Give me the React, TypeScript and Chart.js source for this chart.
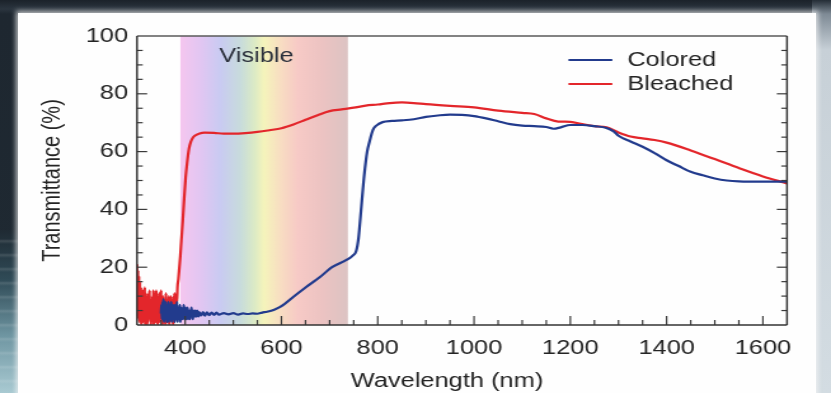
import React, { useEffect, useRef } from "react";
import { Chart, registerables } from "chart.js";

Chart.register(...registerables);

// The reference is a photo of a slide that is stretched horizontally.
const CW = 654;
const CH = 393;
const S = 831 / CW;

const FONT = "'Liberation Sans', Arial, Helvetica, sans-serif";
const TEXT = "#242424";

const seriesLabels = ["Colored", "Bleached"];
const seriesColors = ["#223b8d", "#e3262b"];
const xTickValues = [400, 600, 800, 1000, 1200, 1400, 1600];
const yTickValues = [0, 20, 40, 60, 80, 100];
const visibleBand = [390, 738];

// Bleached (red) spectrum
const bleachedNm = [
  300, 301, 302, 303, 304, 305, 306, 307, 308, 309, 310, 311, 312, 313, 314, 315, 316, 317, 318, 319, 320,
  321, 322, 323, 324, 325, 326, 327, 328, 329, 330, 331, 332, 333, 334, 335, 336, 337, 338, 339, 340,
  341, 342, 343, 344, 345, 346, 347, 348, 349, 350, 351, 352, 353, 354, 355, 356, 357, 358, 359, 360,
  361, 362, 363, 364, 365, 366, 367, 368, 369, 370, 371, 372, 373, 374, 375, 376, 377, 378, 379, 380,
  381, 382, 383, 384,
  386, 388, 390, 392, 395, 398, 401, 404, 408, 412, 416, 420, 430, 440, 460, 480, 500, 525, 550, 575,
  600, 625, 650, 675, 700, 725, 750, 775, 800, 825, 850, 875, 900, 950, 1000, 1050, 1100, 1125, 1150, 1175,
  1200, 1225, 1250, 1275, 1300, 1325, 1350, 1375, 1400, 1450, 1500, 1550, 1600, 1650,
];
const bleachedT = [
  21, 3, 19, 2, 17, 1, 15, 2, 13, 0, 12, 3, 12, 1, 10, 2, 13, 0, 11, 4, 9,
  0, 10, 1, 11, 3, 12, 2, 9, 0, 8, 1, 10, 4, 12, 0, 9, 3, 11, 1, 12,
  2, 10, 0, 8, 3, 11, 1, 9, 4, 12, 2, 8, 0, 10, 1, 9, 3, 8, 0, 11,
  2, 9, 1, 8, 3, 10, 0, 9, 1, 10, 3, 8, 2, 9, 0, 10, 4, 11, 2, 10,
  5, 11, 8, 13,
  16, 20, 24, 29, 36, 44, 51, 56, 61, 63.5, 64.8, 65.5, 66.3, 66.6, 66.5, 66.2, 66.2, 66.4, 66.8, 67.4,
  68.1, 69.4, 71, 72.6, 74, 74.6, 75.2, 75.9, 76.3, 76.8, 77, 76.8, 76.4, 75.8, 75.3, 74.2, 73.4, 73, 71.5, 70.4,
  70.3, 69.5, 68.8, 68.4, 66.6, 65.2, 64.6, 64, 63.1, 60.4, 57.4, 54.3, 51.4, 49,
];

// Colored (blue) spectrum
const coloredNm = [
  350, 351, 352, 353, 354, 355, 356, 357, 358, 359, 360, 361, 362, 363, 364, 365, 366, 367, 368, 369,
  370, 371, 372, 373, 374, 375, 376, 377, 378, 379, 380, 381, 382, 383, 384, 385, 386, 387, 388, 389,
  390, 391, 392, 393, 394, 395, 396, 397, 398, 399, 400, 401, 402, 403, 404, 405, 406, 407, 408, 409,
  410, 411, 412, 413, 414, 415, 416, 417, 418, 419, 420, 421, 422, 423, 424, 425, 426, 427, 428, 429,
  433, 437, 441, 445, 450, 455, 460, 465, 470, 480, 490, 500, 510, 520, 530, 540, 550, 560, 570, 585, 600,
  625, 650, 680, 705, 735, 748, 755, 760, 766, 772, 778, 783, 790, 797, 810, 830, 850, 875, 900, 925,
  950, 975, 1000, 1025, 1050, 1075, 1100, 1125, 1150, 1165, 1180, 1200, 1225, 1250, 1275, 1290, 1300, 1325,
  1350, 1375, 1400, 1425, 1450, 1475, 1500, 1525, 1550, 1600, 1650,
];
const coloredT = [
  4, 7, 2, 8, 3, 9, 1, 6, 2, 8, 3, 7, 1, 6, 2, 8, 1, 7, 3, 6,
  2, 8, 1, 5, 3, 7, 2, 6, 1, 7, 3, 6, 2, 8, 1, 6, 3, 5, 2, 7,
  1, 6, 3, 5, 2, 6, 3, 7, 2, 5, 3, 6, 2, 5, 3, 6, 2, 5, 3, 5,
  2, 5, 3, 6, 3, 5, 2, 5, 3, 4.5, 3, 5, 3, 4.5, 3, 5, 3.5, 4.5, 3, 4.5,
  3.3, 4.5, 3.2, 4.4, 3.4, 4.3, 3.5, 4.3, 3.6, 4.1, 3.7, 4.1, 3.6, 4, 3.8, 4, 3.9, 4.3, 4.6, 5.3, 6.5,
  9.8, 13, 16.6, 20, 22.5, 24, 25.5, 30, 41, 52, 60, 63.5, 67.5, 69, 70.2, 70.6, 70.8, 71.2, 72, 72.5,
  72.8, 72.7, 72.3, 71.5, 70.5, 69.5, 69, 68.8, 68.5, 67.9, 68.4, 69.2, 69.2, 68.8, 68.2, 67, 65.5, 63.5,
  61.7, 59.5, 57, 55, 53, 51.8, 50.7, 50, 49.7, 49.6, 49.6,
];

const bandStops: [number, string][] = [
  [0, "#f6c6ef"],
  [0.12, "#e2c6f2"],
  [0.24, "#c9cbf2"],
  [0.36, "#c8dcdc"],
  [0.44, "#dbeac6"],
  [0.5, "#f5f4bb"],
  [0.6, "#f8ddc2"],
  [0.7, "#f7cac6"],
  [0.85, "#ecc3c2"],
  [1, "#dcc3c3"],
];

const decorPlugin = {
  id: "decor",
  beforeDatasetsDraw(chart: any) {
    const { ctx, chartArea: a, scales } = chart;
    const x = scales.x;
    const y = scales.y;
    const x0 = x.getPixelForValue(visibleBand[0]);
    const x1 = x.getPixelForValue(visibleBand[1]);
    ctx.save();
    const g = ctx.createLinearGradient(x0, 0, x1, 0);
    bandStops.forEach(([p, c]) => g.addColorStop(p, c));
    ctx.fillStyle = g;
    ctx.fillRect(x0, a.top, x1 - x0, a.bottom - a.top);
    ctx.fillStyle = "#2b303c";
    ctx.font = `20px ${FONT}`;
    ctx.textAlign = "center";
    ctx.textBaseline = "middle";
    ctx.fillText("Visible", x.getPixelForValue(548), y.getPixelForValue(93));
    ctx.restore();
  },
  afterDatasetsDraw(chart: any) {
    const { ctx, chartArea: a, scales } = chart;
    const x = scales.x;
    const y = scales.y;
    ctx.save();
    const line = (x1: number, y1: number, x2: number, y2: number) => {
      ctx.beginPath();
      ctx.moveTo(x1, y1);
      ctx.lineTo(x2, y2);
      ctx.stroke();
    };
    // inward tick marks
    ctx.strokeStyle = "#3a3a3a";
    ctx.lineWidth = 1.2;
    for (let v = 350; v < 1650; v += 50) {
      const px = x.getPixelForValue(v);
      const len = v % 200 === 0 ? 9 : 5;
      line(px, a.bottom, px, a.bottom - len);
    }
    for (let v = 5; v < 100; v += 5) {
      const py = y.getPixelForValue(v);
      const len = v % 20 === 0 ? 8 : 4.5;
      line(a.left, py, a.left + len, py);
      line(a.right, py, a.right - len, py);
    }
    // frame
    ctx.strokeStyle = "#5a5a5a";
    ctx.lineWidth = 1.3;
    line(a.left, a.top, a.right, a.top);
    ctx.strokeStyle = "#333";
    ctx.lineWidth = 1.5;
    line(a.right, a.top, a.right, a.bottom);
    line(a.left, a.top, a.left, a.bottom);
    line(a.left, a.bottom, a.right, a.bottom);

    // legend
    ctx.font = `20px ${FONT}`;
    ctx.textAlign = "left";
    ctx.textBaseline = "middle";
    chart.data.datasets.forEach((ds: any, i: number) => {
      const ry = a.top + 24 + i * 24;
      ctx.strokeStyle = ds.borderColor;
      ctx.lineWidth = 2;
      line(a.right - 172, ry, a.right - 137.5, ry);
      ctx.fillStyle = TEXT;
      ctx.fillText(ds.label, a.right - 125.7, ry);
    });

    // x-axis title
    ctx.fillStyle = TEXT;
    ctx.textAlign = "center";
    ctx.fillText("Wavelength (nm)", (a.left + a.right) / 2 - 11.8, 381);
    ctx.restore();
  },
};

export default function App() {
  const ref = useRef<HTMLCanvasElement | null>(null);

  useEffect(() => {
    if (!ref.current) return;
    const tickFont = { family: FONT, size: 20 };
    const chart = new Chart(ref.current, {
      type: "line",
      data: {
        datasets: [
          {
            label: seriesLabels[0],
            data: coloredNm.map((v, i) => ({ x: v, y: coloredT[i] })),
            borderColor: seriesColors[0],
            borderWidth: 2.2,
            pointRadius: 0,
            cubicInterpolationMode: "monotone",
          },
          {
            label: seriesLabels[1],
            data: bleachedNm.map((v, i) => ({ x: v, y: bleachedT[i] })),
            borderColor: seriesColors[1],
            borderWidth: 2.2,
            pointRadius: 0,
            cubicInterpolationMode: "monotone",
          },
        ],
      },
      options: {
        responsive: false,
        animation: false,
        devicePixelRatio: 1,
        layout: { padding: { left: 0, right: CW - 787 / S, top: 36, bottom: 0 } },
        plugins: { legend: { display: false }, tooltip: { enabled: false } },
        scales: {
          x: {
            type: "linear",
            min: 300,
            max: 1650,
            afterBuildTicks: (s: any) => {
              s.ticks = xTickValues.map((v) => ({ value: v }));
            },
            afterFit: (s: any) => {
              s.height = 68;
            },
            grid: { display: false, drawTicks: false },
            border: { display: false },
            ticks: {
              padding: 11,
              font: tickFont,
              color: TEXT,
              maxRotation: 0,
              autoSkip: false,
              callback: (v: any) => String(v),
            },
          },
          y: {
            type: "linear",
            min: 0,
            max: 100,
            afterBuildTicks: (s: any) => {
              s.ticks = yTickValues.map((v) => ({ value: v }));
            },
            afterFit: (s: any) => {
              s.width = 137 / S;
            },
            grid: { display: false, drawTicks: false },
            border: { display: false },
            ticks: {
              padding: 7,
              font: tickFont,
              color: TEXT,
              callback: (v: any) => String(v),
            },
            title: {
              display: true,
              text: "Transmittance (%)",
              font: tickFont,
              color: TEXT,
              padding: { top: 29, bottom: 0 },
            },
          },
        },
      } as any,
      plugins: [decorPlugin],
    });
    return () => chart.destroy();
  }, []);

  return (
    <div
      style={{
        position: "fixed",
        left: 0,
        top: 0,
        width: 831,
        height: 393,
        overflow: "hidden",
        background: "linear-gradient(180deg, #1b222a 0px, #2b353f 9px, #1e2730 14px, #1f2a33 100%)",
      }}
    >
      <div
        style={{
          position: "absolute",
          left: 0,
          top: 230,
          width: 24,
          height: 163,
          background:
            "repeating-linear-gradient(180deg, rgba(255,255,255,0) 0px, rgba(255,255,255,0) 9px, rgba(255,255,255,0.12) 11px, rgba(255,255,255,0) 14px), linear-gradient(180deg, #1f2a33 0%, #2f4a56 30%, #6f96a2 65%, #a9cad2 100%)",
        }}
      />
      <div
        style={{
          position: "absolute",
          left: 812,
          top: 0,
          width: 19,
          height: 393,
          background: "linear-gradient(180deg, #242d36 0px, #7e8a95 14px, #c7d0d7 50px, #d3dce2 100%)",
        }}
      />
      <div
        style={{
          position: "absolute",
          left: 18,
          top: 13,
          width: 798,
          height: 400,
          background: "#fefefe",
          boxShadow: "0 0 5px 2px rgba(245,245,245,0.75)",
        }}
      />
      <div
        style={{
          position: "absolute",
          left: 0,
          top: 0,
          width: CW,
          height: CH,
          transform: `scaleX(${S})`,
          transformOrigin: "0 0",
        }}
      >
        <canvas ref={ref} width={CW} height={CH} style={{ display: "block", width: CW, height: CH }} />
      </div>
    </div>
  );
}
